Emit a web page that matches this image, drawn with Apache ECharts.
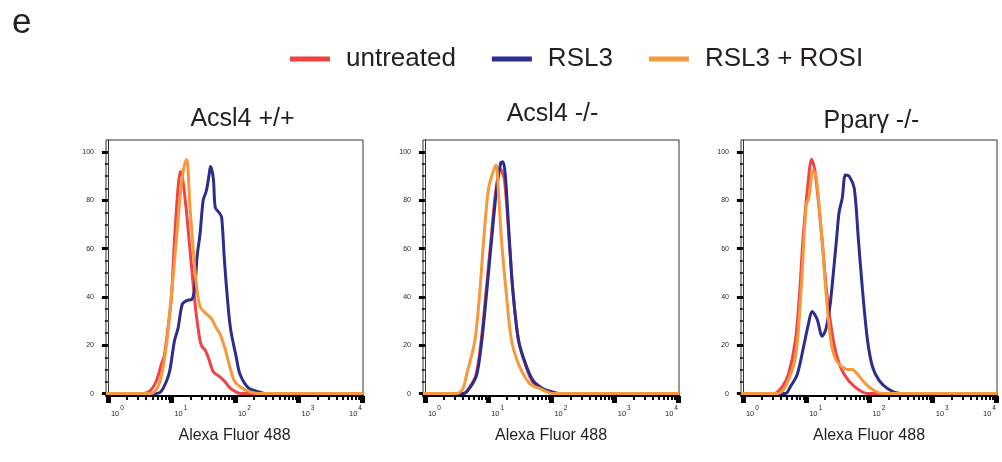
<!DOCTYPE html>
<html><head><meta charset="utf-8">
<script src="https://cdn.jsdelivr.net/npm/echarts@6/dist/echarts.min.js"></script>
<style>html,body{margin:0;padding:0;background:#fff}#c{width:1002px;height:462px}</style>
</head><body><div id="c"></div>
<script>
// ---------- DATA ----------
const figureLetter = 'e';
const panelTitles = ['Acsl4 +/+', 'Acsl4 -/-', 'Pparγ -/-'];
const seriesNames = ['untreated', 'RSL3', 'RSL3 + ROSI'];
const xAxisTitle = 'Alexa Fluor 488';
const yTickValues = [0, 20, 40, 60, 80, 100];
const yMinorTickValues = [5, 10, 15, 25, 30, 35, 45, 50, 55, 65, 70, 75, 85, 90, 95];
const xDecadeValues = [1, 10, 100, 1000, 10000];
const xMinorMultipliers = [2, 3, 4, 5, 6, 7, 8, 9];

// [fluorescence intensity, % of max]
const acsl4WT_untreated = [[0.93,0],[3.55,0],[4.57,1],[5.75,5],[6.92,12],[7.76,16],[8.91,28],[10.0,40],[11.2,64],[12.7,85],[13.8,92],[14.8,90],[17.0,77],[20.0,57],[23.4,38],[26.3,27],[29.5,20],[33.9,18],[38.0,15],[45.7,9],[57.5,7],[69.2,5],[83.2,2.4],[107,0.5],[126,0],[10400,0]];
const acsl4WT_RSL3 = [[0.93,0],[5.79,0],[6.92,1],[8.32,5],[9.42,9.5],[11.2,22],[12.7,27],[14.8,37],[17.4,38.5],[20.9,39],[21.9,40],[23.4,44],[25.4,57],[28.2,66],[31.6,80],[35.5,84],[39.4,91],[41.3,94],[45.7,89],[49.0,77],[56.2,75],[61.7,73],[67.6,57],[74.1,43],[85.1,27],[105,15],[120,8],[162,2.4],[219,1],[316,0],[10400,0]];
const acsl4WT_RSL3ROSI = [[0.93,0],[4.57,0],[5.75,1.5],[6.92,7],[8.51,22],[10.2,43],[12.0,64],[14.0,84],[15.8,94],[17.4,97],[19.5,78],[21.4,64],[24.3,47],[28.2,36],[35.5,33],[42.7,31],[51.3,27],[57.5,25],[69.2,19],[83.2,11],[98.9,5],[135,2],[182,0.5],[245,0],[10400,0]];

const acsl4KO_untreated = [[0.93,0],[3.98,0],[5.01,2.4],[6.46,8],[7.76,22],[9.33,43],[11.1,64],[13.2,84],[15.5,93],[16.6,92],[18.2,88],[21.4,64],[24.5,43],[30.2,22],[39.8,11],[50.1,5],[70.8,2],[126,0],[10400,0]];
const acsl4KO_RSL3 = [[0.93,0],[4.07,0],[5.13,2.4],[6.61,8],[7.94,22],[9.55,43],[11.35,64],[13.5,84],[15.8,95.5],[17.0,96],[18.6,91],[21.6,64],[24.5,43],[30.2,22],[40.7,11],[52.5,5],[74.1,2],[95.5,1],[138,0],[10400,0]];
const acsl4KO_RSL3ROSI = [[0.93,0],[3.16,0],[3.98,2],[4.57,8],[6.17,22],[7.41,43],[8.51,64],[10.0,84],[11.35,90],[13.3,94.7],[14.5,84],[16.2,64],[19.1,43],[23.4,22],[31.6,11],[45.7,4],[66.1,2],[107,0],[10400,0]];

const ppargKO_untreated = [[0.93,0],[3.09,0],[4.17,2.8],[5.25,8],[6.76,22],[7.94,43],[8.91,64],[10.5,85],[12.2,97],[13.8,92],[17.8,64],[20.9,43],[25.7,25],[30.9,15],[39.8,8],[57.5,3],[93.3,0],[10400,0]];
const ppargKO_RSL3 = [[0.93,0],[4.68,0],[5.62,2.8],[7.24,8],[9.12,19.5],[10.7,28],[12.4,34],[15.0,30.6],[17.8,23.7],[20.4,26.5],[23.7,36],[26.9,50],[30.2,64],[33.1,75],[37.2,81],[41.7,90.5],[47.9,90],[57.5,85],[66.8,64],[77.6,43],[93.3,22],[112,11],[141,5.6],[195,2],[316,0],[10400,0]];
const ppargKO_RSL3ROSI = [[0.93,0],[3.55,0],[4.68,2.8],[6.76,15],[8.32,43],[10.0,78],[11.0,81],[12.9,92.6],[14.5,89],[17.8,64],[20.4,43],[24.5,22],[29.5,14],[37.2,11],[44.7,10],[53.7,10],[64.6,8],[87.1,4],[117,1.4],[170,0],[10400,0]];

const panelData = [
  [acsl4WT_untreated, acsl4WT_RSL3, acsl4WT_RSL3ROSI],
  [acsl4KO_untreated, acsl4KO_RSL3, acsl4KO_RSL3ROSI],
  [ppargKO_untreated, ppargKO_RSL3, ppargKO_RSL3ROSI]
];

// ---------- STYLE / LAYOUT ----------
const colors = ['#ef4345', '#2b2e8c', '#f7993b'];
const FONT = 'Liberation Sans';
const TXT = '#231f20';
const gridBoxes = [{left:106,width:257},{left:423,width:256},{left:741,width:256}];
const titleLefts = [237.5, 547.5, 866.5];
const titleTops = [102, 97, 104];
const X_MIN = -0.03, X_MAX = 4.016;

const lg = v => Math.log10(v);
const xMajor = xDecadeValues.map(lg);
const xMinor = [];
xDecadeValues.slice(0, -1).forEach(d => xMinorMultipliers.forEach(m => xMinor.push(lg(d * m))));

const option = {
  animation: false,
  backgroundColor: '#fff',
  textStyle: { fontFamily: FONT },
  title: [{ text: figureLetter, left: 7, top: 1, textStyle: { fontSize: 35, fontWeight: 'normal', color: TXT, fontFamily: FONT } }]
    .concat(panelTitles.map((t, i) => ({
      text: t, left: titleLefts[i], top: titleTops[i], textAlign: 'center',
      textStyle: { fontSize: 25, fontWeight: 'normal', color: TXT, fontFamily: FONT }
    }))),
  legend: {
    data: seriesNames, left: 285, top: 41, icon: 'rect', itemWidth: 40, itemHeight: 5, itemGap: 36,
    textStyle: { fontSize: 26, color: TXT, fontFamily: FONT, padding: [0, 0, 0, 11] }
  },
  grid: [], xAxis: [], yAxis: [], series: []
};

gridBoxes.forEach((g, i) => {
  option.grid.push({ left: g.left, width: g.width, top: 140, height: 256, show: true, borderColor: '#333', borderWidth: 1, backgroundColor: '#fff' });
  option.xAxis.push({
    gridIndex: i, type: 'value', min: X_MIN, max: X_MAX, position: 'bottom',
    axisLine: { show: true, onZero: false, lineStyle: { color: '#000', width: 2 } },
    axisTick: { show: true, customValues: xMajor, length: 7, lineStyle: { color: '#000', width: 5 } },
    axisLabel: {
      customValues: xMajor, margin: 9, align: 'left', alignMaxLabel: 'right',
      formatter: v => '{b|10}{s|' + Math.round(v) + '}',
      rich: {
        b: { fontSize: 7.5, color: TXT, fontFamily: FONT, lineHeight: 13, verticalAlign: 'bottom', padding: [0, 0, 0, 3] },
        s: { fontSize: 6.5, color: TXT, fontFamily: FONT, lineHeight: 13, verticalAlign: 'top', padding: [0, 0, 0, 1] }
      }
    },
    splitLine: { show: false },
    name: xAxisTitle, nameLocation: 'middle', nameGap: 32,
    nameTextStyle: { fontSize: 16, color: TXT, fontFamily: FONT }
  });
  option.xAxis.push({
    gridIndex: i, type: 'value', min: X_MIN, max: X_MAX, position: 'bottom', offset: 0,
    axisLine: { show: false, onZero: false },
    axisTick: { show: true, customValues: xMinor, length: 4, lineStyle: { color: '#000', width: 2 } },
    axisLabel: { show: false }, splitLine: { show: false }
  });
  option.yAxis.push({
    gridIndex: i, type: 'value', min: -1, max: 105, position: 'left',
    axisLine: { show: true, lineStyle: { color: '#333', width: 1 } },
    axisTick: { show: true, customValues: yTickValues, length: 6, lineStyle: { color: '#000', width: 3 } },
    axisLabel: { customValues: yTickValues, fontSize: 7, color: TXT, fontFamily: FONT, margin: 12 },
    splitLine: { show: false }
  });
  option.yAxis.push({
    gridIndex: i, type: 'value', min: -1, max: 105, position: 'left', offset: 0,
    axisLine: { show: false },
    axisTick: { show: true, customValues: yMinorTickValues, length: 3, lineStyle: { color: '#000', width: 1.5 } },
    axisLabel: { show: false }, splitLine: { show: false }
  });
  panelData[i].forEach((arr, k) => {
    option.series.push({
      name: seriesNames[k], type: 'line', xAxisIndex: 2 * i, yAxisIndex: 2 * i,
      data: arr.map(p => [lg(p[0]), p[1]]),
      symbol: 'none', smooth: 0.3, color: colors[k],
      lineStyle: { width: 3, color: colors[k] }, z: 2 + k
    });
  });
});

const chart = echarts.init(document.getElementById('c'), null, { renderer: 'canvas' });
chart.setOption(option);
</script></body></html>
